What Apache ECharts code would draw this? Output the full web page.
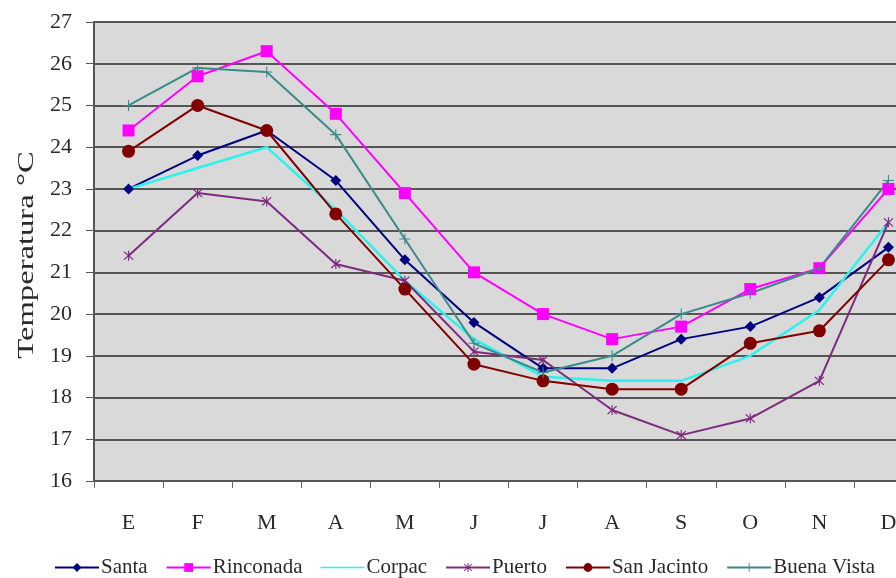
<!DOCTYPE html>
<html>
<head>
<meta charset="utf-8">
<script src="https://cdn.jsdelivr.net/npm/echarts@6/dist/echarts.min.js"></script>
<style>
  html, body { margin: 0; padding: 0; background: #ffffff; }
  #chart { width: 896px; height: 578px; }
</style>
</head>
<body>
<div id="chart"></div>
<script>
// Monthly mean temperature (°C) per station
const months = ['E', 'F', 'M', 'A', 'M', 'J', 'J', 'A', 'S', 'O', 'N', 'D'];
const santa      = [23.0, 23.8, 24.4, 23.2, 21.3, 19.8, 18.7, 18.7, 19.4, 19.7, 20.4, 21.6];
const rinconada  = [24.4, 25.7, 26.3, 24.8, 22.9, 21.0, 20.0, 19.4, 19.7, 20.6, 21.1, 23.0];
const corpac     = [23.0, 23.5, 24.0, 22.5, 20.8, 19.4, 18.5, 18.4, 18.4, 19.0, 20.1, 22.2];
const puerto     = [21.4, 22.9, 22.7, 21.2, 20.8, 19.1, 18.9, 17.7, 17.1, 17.5, 18.4, 22.2];
const sanJacinto = [23.9, 25.0, 24.4, 22.4, 20.6, 18.8, 18.4, 18.2, 18.2, 19.3, 19.6, 21.3];
const buenaVista = [25.0, 25.9, 25.8, 24.3, 21.8, 19.3, 18.6, 19.0, 20.0, 20.5, 21.1, 23.2];
const yTitle = 'Temperatura °C';

const FONT = 'Liberation Serif';
const TEXT = '#2a2a2a';

// Filled outlines for the asterisk and plus markers
const ASTERISK = 'path://M4.5,0 L5.5,0 L5.5,10 L4.5,10 Z ' +
  'M1.4,0.6 L9.4,8.6 L8.6,9.4 L0.6,1.4 Z ' +
  'M8.6,0.6 L9.4,1.4 L1.4,9.4 L0.6,8.6 Z';
const PLUS = 'path://M0,4.5 L10,4.5 L10,5.5 L0,5.5 Z M4.5,0 L5.5,0 L5.5,10 L4.5,10 Z';
// Plain line legend key (tiny corner dots keep the full box height)
const LINE_KEY = 'path://M0,0 L0.01,0 L0.01,0.01 Z M0,10 L0.01,10 L0.01,9.99 Z M0,4.2 L44,4.2 L44,5.8 L0,5.8 Z';

function lineSeries(name, data, color, symbol, size, width) {
  return {
    name: name,
    type: 'line',
    data: data,
    symbol: symbol,
    symbolSize: size,
    showSymbol: symbol !== 'none',
    lineStyle: { color: color, width: width },
    itemStyle: { color: color },
    emphasis: { disabled: true },
    animation: false,
    z: 3
  };
}

const chart = echarts.init(document.getElementById('chart'), null, { renderer: 'canvas' });

chart.setOption({
  backgroundColor: '#ffffff',
  animation: false,
  textStyle: { fontFamily: FONT, color: TEXT },
  grid: {
    left: 94, top: 22, right: -27, bottom: 97,
    outerBoundsMode: 'none',
    containLabel: false,
    show: true, backgroundColor: '#d9d9d9', borderWidth: 0
  },
  legend: {
    top: 557,
    left: 54,
    padding: 0,
    itemWidth: 44,
    itemHeight: 11,
    itemGap: 18,
    textStyle: { fontFamily: FONT, fontSize: 21, color: TEXT, padding: [0, 0, 0, -3] },
    data: [
      'Santa', 'Rinconada',
      { name: 'Corpac', icon: LINE_KEY, itemStyle: { color: '#2cf2ee' } },
      'Puerto', 'San Jacinto', 'Buena Vista'
    ]
  },
  graphic: [{
    type: 'text',
    x: 27, y: 255,
    rotation: Math.PI / 2,
    scaleX: 1.36,
    style: {
      text: yTitle,
      fontFamily: FONT, fontSize: 24, fill: TEXT,
      align: 'center', verticalAlign: 'middle'
    }
  }],
  xAxis: {
    type: 'category',
    data: months,
    boundaryGap: true,
    axisLine: { show: true, lineStyle: { color: '#555555', width: 2 } },
    axisTick: { show: true, length: 7, lineStyle: { color: '#666666', width: 1 } },
    axisLabel: { margin: 31, fontFamily: FONT, fontSize: 22, color: TEXT },
    splitLine: { show: false }
  },
  yAxis: {
    type: 'value',
    min: 16, max: 27, interval: 1,
    axisLine: { show: true, lineStyle: { color: '#555555', width: 2 } },
    axisTick: { show: true, length: 8, lineStyle: { color: '#555555', width: 1 } },
    axisLabel: { margin: 22, fontFamily: FONT, fontSize: 22, color: TEXT },
    splitLine: { show: true, lineStyle: { color: '#555555', width: 2 } }
  },
  series: [
    lineSeries('Santa', santa, '#000080', 'diamond', 11, 2),
    lineSeries('Rinconada', rinconada, '#ff00ff', 'rect', 12, 2),
    lineSeries('Corpac', corpac, '#2cf2ee', 'none', 0, 2.5),
    lineSeries('Puerto', puerto, '#7e2a7e', ASTERISK, 10, 2),
    lineSeries('San Jacinto', sanJacinto, '#800000', 'circle', 13, 2),
    lineSeries('Buena Vista', buenaVista, '#3b8a8a', PLUS, 11, 2)
  ]
});
</script>
</body>
</html>
